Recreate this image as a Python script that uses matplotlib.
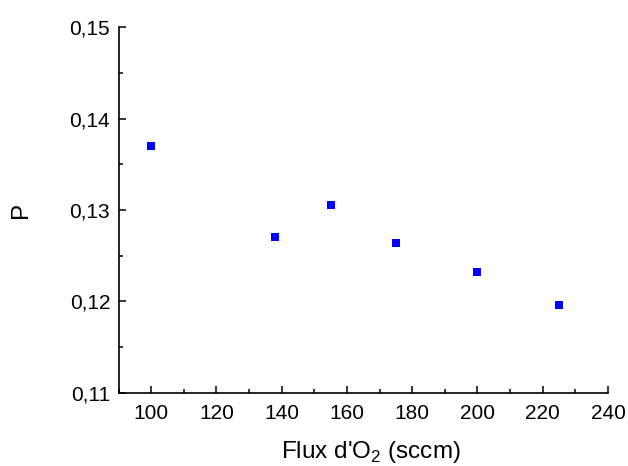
import matplotlib
matplotlib.use('Agg')
from matplotlib import pyplot as plt
from matplotlib.ticker import MultipleLocator, FuncFormatter

plt.rcParams['font.family'] = ['Liberation Sans', 'DejaVu Sans']
plt.rcParams['mathtext.fontset'] = 'custom'
plt.rcParams['mathtext.rm'] = 'Liberation Sans'

flux = [100, 138, 155, 175, 200, 225]
p = [0.1370, 0.1270, 0.1306, 0.1264, 0.1232, 0.1196]

fig = plt.figure(figsize=(6.28, 4.66), dpi=100)
ax = fig.add_axes([0.1887, 0.1573, 0.7795, 0.7841])

ax.plot(flux, p, 's', color='#0000ff', markersize=5.2, markeredgewidth=0)

ax.set_xlim(90, 240)
ax.set_ylim(0.11, 0.15)
ax.xaxis.set_major_locator(MultipleLocator(20))
ax.xaxis.set_minor_locator(MultipleLocator(10))
ax.yaxis.set_major_locator(MultipleLocator(0.01))
ax.yaxis.set_minor_locator(MultipleLocator(0.005))
ax.yaxis.set_major_formatter(FuncFormatter(lambda v, pos: ('%.2f' % v).replace('.', ',')))

for s in ['top', 'right']:
	ax.spines[s].set_visible(False)
for s in ['left', 'bottom']:
	ax.spines[s].set_linewidth(1.2)

ax.tick_params(which='both', direction='in', width=1.1, labelsize=15, color='black')
ax.tick_params(which='major', length=5)
ax.tick_params(which='minor', length=3)
ax.tick_params(axis='x', which='major', pad=8)
ax.tick_params(axis='y', which='major', pad=6)

ax.set_xlabel("Flux d'O$_\\mathrm{2}$ (sccm)", fontsize=17.5)
ax.xaxis.set_label_coords(0.516, -0.128)
ax.xaxis.label.set_verticalalignment('top')
ax.set_ylabel('P', fontsize=17.5, labelpad=27)

fig.savefig('out.png', dpi=100)
